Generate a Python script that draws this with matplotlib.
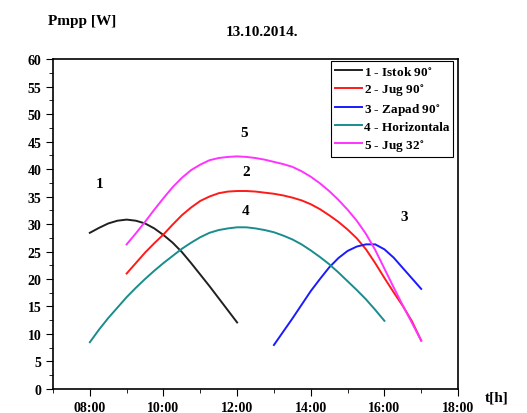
import numpy as np
import matplotlib.pyplot as plt
from matplotlib.ticker import MultipleLocator, FuncFormatter

plt.rcParams['font.family'] = ['Liberation Serif', 'DejaVu Serif']
plt.rcParams['font.weight'] = 'bold'
plt.rcParams['mathtext.fontset'] = 'stix'

# time in hours (quarter-hour readings), power in W
t_istok = [8.0, 8.25, 8.5, 8.75, 9.0, 9.25, 9.5, 9.75, 10.0, 10.25, 10.5,
           10.75, 11.0, 11.25, 11.5, 11.75, 12.0]
p_istok = [28.4, 29.3, 30.1, 30.6, 30.8, 30.6, 30.1, 29.2, 28.0, 26.6, 24.9,
           22.9, 20.8, 18.7, 16.5, 14.3, 12.1]

t_jug = [9.0, 9.25, 9.5, 9.75, 10.0, 10.25, 10.5, 10.75, 11.0, 11.25, 11.5,
         11.75, 12.0, 12.25, 12.5, 12.75, 13.0, 13.25, 13.5, 13.75, 14.0,
         14.25, 14.5, 14.75, 15.0, 15.25, 15.5, 15.75, 16.0, 16.25, 16.5,
         16.75, 17.0]
p_jug = [21.0, 22.9, 24.8, 26.5, 28.1, 29.9, 31.6, 33.0, 34.2, 35.0, 35.6,
         35.9, 36.0, 36.0, 35.9, 35.7, 35.5, 35.2, 34.8, 34.3, 33.6,
         32.7, 31.6, 30.4, 29.0, 27.4, 25.4, 22.9, 20.2, 17.6, 15.1,
         12.3, 8.8]

t_zapad = [13.0, 13.25, 13.5, 13.75, 14.0, 14.25, 14.5, 14.75, 15.0, 15.25,
           15.5, 15.75, 16.0, 16.25, 16.5, 16.75, 17.0]
p_zapad = [8.0, 10.4, 12.8, 15.3, 17.8, 20.0, 22.1, 23.8, 25.1, 25.9,
           26.3, 26.3, 25.4, 23.9, 22.0, 20.1, 18.2]

t_horiz = [8.0, 8.25, 8.5, 8.75, 9.0, 9.25, 9.5, 9.75, 10.0, 10.25, 10.5,
           10.75, 11.0, 11.25, 11.5, 11.75, 12.0, 12.25, 12.5, 12.75, 13.0,
           13.25, 13.5, 13.75, 14.0, 14.25, 14.5, 14.75, 15.0, 15.25, 15.5,
           15.75, 16.0]
p_horiz = [8.5, 10.8, 12.9, 14.8, 16.7, 18.4, 20.0, 21.5, 22.9, 24.2, 25.5,
           26.6, 27.6, 28.4, 28.9, 29.2, 29.4, 29.4, 29.2, 28.9, 28.5,
           27.9, 27.2, 26.3, 25.2, 24.0, 22.7, 21.2, 19.6, 18.0, 16.3,
           14.4, 12.4]

t_jug32 = [9.0, 9.25, 9.5, 9.75, 10.0, 10.25, 10.5, 10.75, 11.0, 11.25, 11.5,
           11.75, 12.0, 12.25, 12.5, 12.75, 13.0, 13.25, 13.5, 13.75, 14.0,
           14.25, 14.5, 14.75, 15.0, 15.25, 15.5, 15.75, 16.0, 16.25, 16.5,
           16.75, 17.0]
p_jug32 = [26.3, 28.3, 30.4, 32.6, 34.7, 36.7, 38.4, 39.8, 40.8, 41.6, 42.0,
           42.2, 42.3, 42.2, 42.0, 41.7, 41.3, 40.9, 40.4, 39.6, 38.6,
           37.4, 36.0, 34.4, 32.6, 30.6, 28.2, 25.3, 21.9, 18.5, 15.2,
           12.0, 8.8]

labels = ['1 - Istok 90$^{\\circ}$', '2 - Jug 90$^{\\circ}$',
          '3 - Zapad 90$^{\\circ}$', '4 - Horizontala', '5 - Jug 32$^{\\circ}$']
colors = ['#202020', '#ff1a1a', '#1a1aff', '#1a8c8c', '#ff33ff']

# curve number labels (x, y)
num_x = [8.27, 12.24, 16.54, 12.24, 12.19]
num_y = [37.3, 39.6, 31.3, 32.4, 46.7]

fig = plt.figure(figsize=(5.27, 4.14), dpi=100)
ax = fig.add_axes([0.1006, 0.058, 0.7685, 0.797])

series = [(t_istok, p_istok), (t_jug, p_jug), (t_zapad, p_zapad),
          (t_horiz, p_horiz), (t_jug32, p_jug32)]
for (t, p), lab, c in zip(series, labels, colors):
    ax.plot(t, p, color=c, lw=1.4, label=lab)

for i in range(5):
    ax.text(num_x[i], num_y[i], str(i + 1), fontsize=11, fontweight='bold',
            ha='center', va='center')

ax.set_xlim(7, 18)
ax.set_ylim(0, 60)
ax.xaxis.set_major_locator(MultipleLocator(2))
ax.xaxis.set_minor_locator(MultipleLocator(1))
ax.yaxis.set_major_locator(MultipleLocator(5))
ax.yaxis.set_minor_locator(MultipleLocator(2.5))
ax.xaxis.set_major_formatter(FuncFormatter(lambda v, pos: f'{int(v):02d}:00'))
ax.tick_params(which='both', direction='out', labelsize=10)
ax.tick_params(which='major', length=5)
ax.tick_params(which='minor', length=3)
for s in ax.spines.values():
    s.set_linewidth(1.2)

leg = ax.legend(loc='upper right', bbox_to_anchor=(0.988, 0.995), fontsize=9.5,
                fancybox=False, edgecolor='black', framealpha=1,
                handlelength=2.0, borderpad=0.3, labelspacing=0.28,
                handletextpad=0.15, borderaxespad=0)
leg.get_frame().set_linewidth(0.8)

fig.text(48 / 527, 1 - 22 / 414, 'Pmpp [W]', fontsize=11, fontweight='bold',
         va='center')
fig.text(262 / 527, 1 - 32 / 414, '13.10.2014.', fontsize=11,
         fontweight='bold', ha='center', va='center')
fig.text(497 / 527, 1 - 398 / 414, 't[h]', fontsize=11, fontweight='bold',
         ha='center', va='center')

fig.savefig('out.png', dpi=100)
